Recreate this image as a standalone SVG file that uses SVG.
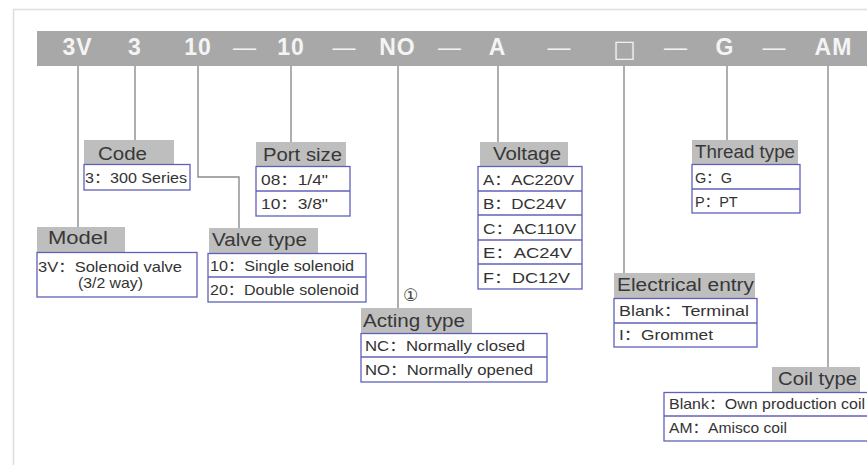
<svg xmlns="http://www.w3.org/2000/svg" width="867" height="465" viewBox="0 0 867 465">
<style>
.frame{fill:#ffffff;stroke:#dedede;stroke-width:1.5}
.bar{fill:#a8a8a8}
.code{font-family:"Liberation Sans","Noto Sans CJK SC",sans-serif;font-size:23px;font-weight:bold;fill:#f4f4f4;text-anchor:middle;letter-spacing:1px}
.dash{font-family:"Liberation Sans",sans-serif;font-size:23px;font-weight:normal;fill:#f4f4f4;text-anchor:middle}
.sq{font-family:"DejaVu Sans",sans-serif;font-size:24px;fill:#efefef;text-anchor:middle}
.hd{fill:#bebebe}
.ht{font-family:"Liberation Sans",sans-serif;font-size:18px;fill:#383838}
.box{fill:#ffffff;stroke:#6060b8;stroke-width:1.3}
.div{stroke:#6060b8;stroke-width:1.3}
.dt{font-family:"Liberation Sans","Noto Sans CJK SC",sans-serif;font-size:14.5px;fill:#333333}
.conn path{fill:none;stroke:#8c8c8c;stroke-width:1.4}
.num{font-family:"DejaVu Sans","Noto Sans CJK SC",sans-serif;font-size:17px;fill:#444;text-anchor:middle}
</style>
<rect x="0" y="0" width="867" height="465" fill="#ffffff"/>
<rect class="frame" x="13.5" y="9.5" width="870" height="470"/>
<g id="codebar">
<rect class="bar" x="37" y="31" width="832" height="35"/>
<text class="code" x="77.5" y="55">3V</text>
<text class="code" x="135" y="55">3</text>
<text class="code" x="198" y="55">10</text>
<text class="dash" x="244.5" y="55">—</text>
<text class="code" x="291" y="55">10</text>
<text class="dash" x="344" y="55">—</text>
<text class="code" x="397.5" y="55">NO</text>
<text class="dash" x="449.5" y="55">—</text>
<text class="code" x="497.5" y="55">A</text>
<text class="dash" x="559" y="55">—</text>
<text class="sq" x="624.5" y="57">□</text>
<text class="dash" x="675.5" y="55">—</text>
<text class="code" x="725" y="55">G</text>
<text class="dash" x="774" y="55">—</text>
<text class="code" x="833.5" y="55">AM</text>
</g>
<g class="conn" id="connectors">
<path d="M78,66 V227"/>
<path d="M135,66 V140"/>
<path d="M198,66 V177 H239 V228"/>
<path d="M291,66 V142"/>
<path d="M398,66 V308"/>
<path d="M498,66 V142"/>
<path d="M624,66 V273"/>
<path d="M727,66 V140"/>
<path d="M828,66 V367"/>
</g>
<g id="code">
<rect class="hd" x="84" y="140" width="90" height="24"/>
<text class="ht" x="98" y="160" textLength="49" lengthAdjust="spacingAndGlyphs">Code</text>
<rect class="box" x="84" y="164.5" width="106" height="25.5"/>
<text class="dt" x="85" y="183" textLength="102" lengthAdjust="spacingAndGlyphs">3：300 Series</text>
</g>
<g id="model">
<rect class="hd" x="37" y="227" width="88" height="25"/>
<text class="ht" x="48" y="244" textLength="60" lengthAdjust="spacingAndGlyphs">Model</text>
<rect class="box" x="37" y="252.5" width="160" height="44.5"/>
<text class="dt" x="38" y="272" textLength="144" lengthAdjust="spacingAndGlyphs">3V：Solenoid valve</text>
<text class="dt" x="78" y="288" textLength="65" lengthAdjust="spacingAndGlyphs">(3/2 way)</text>
</g>
<g id="portsize">
<rect class="hd" x="256" y="142" width="90" height="24"/>
<text class="ht" x="263" y="161" textLength="79" lengthAdjust="spacingAndGlyphs">Port size</text>
<rect class="box" x="256" y="166.5" width="94" height="49.5"/>
<line class="div" x1="256" y1="191" x2="350" y2="191"/>
<text class="dt" x="261" y="185" textLength="67" lengthAdjust="spacingAndGlyphs">08：1/4"</text>
<text class="dt" x="261" y="209" textLength="67" lengthAdjust="spacingAndGlyphs">10：3/8"</text>
</g>
<g id="valvetype">
<rect class="hd" x="209" y="228" width="109" height="25"/>
<text class="ht" x="212" y="246" textLength="95" lengthAdjust="spacingAndGlyphs">Valve type</text>
<rect class="box" x="208" y="253.5" width="158" height="48.5"/>
<line class="div" x1="208" y1="277" x2="366" y2="277"/>
<text class="dt" x="210" y="271" textLength="144" lengthAdjust="spacingAndGlyphs">10：Single solenoid</text>
<text class="dt" x="210" y="295" textLength="149" lengthAdjust="spacingAndGlyphs">20：Double solenoid</text>
</g>
<g id="actingtype">
<text class="num" x="410.5" y="301">①</text>
<rect class="hd" x="361" y="308" width="111" height="25"/>
<text class="ht" x="363" y="327" textLength="102" lengthAdjust="spacingAndGlyphs">Acting type</text>
<rect class="box" x="361" y="333.5" width="186" height="48.5"/>
<line class="div" x1="361" y1="357" x2="547" y2="357"/>
<text class="dt" x="365" y="351" textLength="160" lengthAdjust="spacingAndGlyphs">NC：Normally closed</text>
<text class="dt" x="365" y="375" textLength="168" lengthAdjust="spacingAndGlyphs">NO：Normally opened</text>
</g>
<g id="voltage">
<rect class="hd" x="480" y="142" width="88" height="24"/>
<text class="ht" x="493" y="160" textLength="68" lengthAdjust="spacingAndGlyphs">Voltage</text>
<rect class="box" x="478" y="166.5" width="104" height="122.5"/>
<line class="div" x1="478" y1="191" x2="582" y2="191"/>
<line class="div" x1="478" y1="215" x2="582" y2="215"/>
<line class="div" x1="478" y1="240" x2="582" y2="240"/>
<line class="div" x1="478" y1="264" x2="582" y2="264"/>
<text class="dt" x="483" y="185" textLength="91" lengthAdjust="spacingAndGlyphs">A：AC220V</text>
<text class="dt" x="483" y="209" textLength="83" lengthAdjust="spacingAndGlyphs">B：DC24V</text>
<text class="dt" x="483" y="234" textLength="93" lengthAdjust="spacingAndGlyphs">C：AC110V</text>
<text class="dt" x="483" y="258" textLength="89" lengthAdjust="spacingAndGlyphs">E：AC24V</text>
<text class="dt" x="483" y="283" textLength="87" lengthAdjust="spacingAndGlyphs">F：DC12V</text>
</g>
<g id="threadtype">
<rect class="hd" x="692" y="140" width="106" height="24"/>
<text class="ht" x="695" y="158" textLength="100" lengthAdjust="spacingAndGlyphs">Thread type</text>
<rect class="box" x="692" y="164.5" width="108" height="48.5"/>
<line class="div" x1="692" y1="189" x2="800" y2="189"/>
<text class="dt" x="695" y="183">G：G</text>
<text class="dt" x="695" y="207">P：PT</text>
</g>
<g id="electricalentry">
<rect class="hd" x="614" y="273" width="141" height="25"/>
<text class="ht" x="617" y="291" textLength="137" lengthAdjust="spacingAndGlyphs">Electrical entry</text>
<rect class="box" x="614" y="298.5" width="143" height="48.5"/>
<line class="div" x1="614" y1="323" x2="757" y2="323"/>
<text class="dt" x="619" y="316" textLength="130" lengthAdjust="spacingAndGlyphs">Blank：Terminal</text>
<text class="dt" x="619" y="340" textLength="94" lengthAdjust="spacingAndGlyphs">I：Grommet</text>
</g>
<g id="coiltype">
<rect class="hd" x="772" y="367" width="88" height="25"/>
<text class="ht" x="778" y="385" textLength="79" lengthAdjust="spacingAndGlyphs">Coil type</text>
<rect class="box" x="664" y="392.5" width="212" height="48.5"/>
<line class="div" x1="664" y1="416" x2="867" y2="416"/>
<text class="dt" x="669" y="409" textLength="196" lengthAdjust="spacingAndGlyphs">Blank：Own production coil</text>
<text class="dt" x="669" y="433" textLength="118" lengthAdjust="spacingAndGlyphs">AM：Amisco coil</text>
</g>
</svg>
